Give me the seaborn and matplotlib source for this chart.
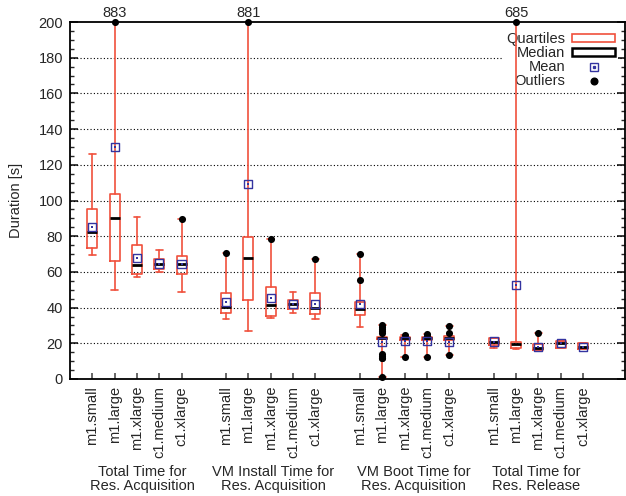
import matplotlib
matplotlib.use("Agg")
import matplotlib.pyplot as plt
import seaborn as sns
import pandas as pd
from matplotlib.lines import Line2D
from matplotlib.patches import Patch
from matplotlib.ticker import MultipleLocator

sns.set_theme(style="ticks")
plt.rcParams["font.family"] = ["Liberation Sans", "DejaVu Sans"]

# ── Data ──────────────────────────────────────────────────────────────────────
instances = ["m1.small", "m1.large", "m1.xlarge", "c1.medium", "c1.xlarge"]
groups = ["Total Time for\nRes. Acquisition",
          "VM Install Time for\nRes. Acquisition",
          "VM Boot Time for\nRes. Acquisition",
          "Total Time for\nRes. Release"]
group_label_x = [3.24, 9.1, 15.4, 20.9]

whislo = [69.5, 49.9, 57.0, 60.0, 48.9,
          33.8, 27.0, 34.0, 37.0, 33.6,
          29.0, 1.3, 12.3, 12.5, 13.6,
          17.5, 17.0, 16.2, 17.5, 16.6]
q1 = [73.4, 66.0, 58.8, 61.6, 58.8,
      37.0, 44.3, 35.3, 39.2, 36.4,
      35.8, 22.4, 21.8, 21.8, 21.8,
      19.0, 17.2, 16.2, 17.5, 16.6]
med = [82.4, 90.2, 64.0, 64.6, 64.6,
       40.4, 67.8, 41.4, 42.2, 40.0,
       39.2, 23.2, 22.8, 22.8, 22.8,
       20.9, 19.4, 17.5, 20.0, 18.1]
q3 = [95.0, 103.6, 75.0, 67.2, 68.9,
      48.0, 79.5, 51.8, 44.3, 48.0,
      43.3, 23.7, 23.4, 23.4, 24.0,
      23.0, 20.5, 19.4, 21.5, 20.0]
whishi = [126.0, 883.0, 91.0, 72.3, 89.6,
          70.5, 881.0, 78.5, 48.6, 67.0,
          70.0, 30.0, 24.6, 25.2, 29.7,
          23.0, 685.0, 25.6, 21.5, 20.0]
means = [85.0, 130.0, 67.7, 64.7, 64.2,
         43.3, 109.0, 45.3, 42.2, 42.0,
         42.0, 20.7, 21.3, 21.5, 20.9,
         21.0, 52.6, 17.8, 20.0, 18.1]
fliers = [[], [883], [], [], [89.6],
          [70.5], [881], [78.5], [], [67],
          [55.5, 70], [30, 29, 28, 27, 26, 14, 13, 12, 11.5, 1.3], [24.6, 12.3], [25.2, 24.0, 12.5], [29.7, 25.8, 13.6],
          [], [685], [25.6], [], []]

YMAX = 200
RED = "#f0503c"
BLUE = "#3434a0"

positions = [g * 6 + i + 1 for g in range(len(groups)) for i in range(len(instances))]
labels = instances * len(groups)

stats = [dict(whislo=a, q1=b, med=c, q3=d, whishi=e, fliers=[], label=l)
         for a, b, c, d, e, l in zip(whislo, q1, med, q3, whishi, labels)]

fl_rows = [(p, v) for p, fs in zip(positions, fliers) for v in fs]
df_fl = pd.DataFrame(fl_rows, columns=["pos", "value"])
df_fl["shown"] = df_fl["value"].clip(upper=YMAX)
df_mean = pd.DataFrame({"pos": positions, "mean": means})

# ── Figure ────────────────────────────────────────────────────────────────────
fig = plt.figure(figsize=(6.26, 4.96), dpi=100)
ax = fig.add_axes([0.1118, 0.2359, 0.8866, 0.7197])

ax.bxp(stats, positions=positions, widths=0.45, showfliers=False,
       boxprops=dict(color=RED, linewidth=1.2),
       whiskerprops=dict(color=RED, linewidth=1.2),
       capprops=dict(color=RED, linewidth=1.2),
       medianprops=dict(color="black", linewidth=2.0),
       capwidths=0.3, manage_ticks=False)

sns.scatterplot(data=df_fl, x="pos", y="shown", ax=ax, color="black", s=26,
                edgecolor="black", linewidth=0, zorder=4, clip_on=False, legend=False)
sns.scatterplot(data=df_mean, x="pos", y="mean", ax=ax, marker="s", s=34,
                facecolor="none", edgecolor=BLUE, linewidth=1.0, zorder=5, legend=False)
sns.scatterplot(data=df_mean, x="pos", y="mean", ax=ax, marker="s", s=2.5,
                color=BLUE, linewidth=0, zorder=5, legend=False)

# values of clipped outliers above the top border
for _, r in df_fl[df_fl["value"] > YMAX].iterrows():
    ax.text(r["pos"], YMAX + 1.2, f"{int(r['value'])}", ha="center", va="bottom", fontsize=10.5)

ax.set_xlim(0, 24.88)
ax.set_ylim(0, YMAX)
ax.set_xlabel("")
ax.set_ylabel("Duration [s]", fontsize=10.5, labelpad=11)
ax.set_xticks(positions)
ax.set_xticklabels(labels, rotation=90, fontsize=10.5)
ax.yaxis.set_major_locator(MultipleLocator(20))
ax.yaxis.set_minor_locator(MultipleLocator(5))
ax.tick_params(axis="y", which="both", direction="in", right=True, labelsize=10.5)
ax.tick_params(axis="y", which="major", length=6, pad=5)
ax.tick_params(axis="y", which="minor", length=3)
ax.tick_params(axis="x", direction="in", length=4, pad=5, color="#555555")
for s in ax.spines.values():
    s.set_linewidth(1.3)
    s.set_color("black")

for v in range(20, YMAX, 20):
    ax.axhline(v, color="black", linestyle=(0, (1, 2)), linewidth=0.8, zorder=1)

for x, g in zip(group_label_x, groups):
    ax.text(x, -0.24, g, transform=ax.get_xaxis_transform(), ha="center", va="top",
            fontsize=10.5, multialignment="center", linespacing=1.05)

handles = [Patch(facecolor="white", edgecolor=RED, linewidth=1.2),
           Patch(facecolor="white", edgecolor="black", linewidth=1.8),
           (Line2D([], [], marker="s", ls="", ms=6, mfc="none", mec=BLUE, mew=1.0),
            Line2D([], [], marker="s", ls="", ms=1.4, mfc=BLUE, mec=BLUE)),
           Line2D([], [], marker="o", ls="", ms=4.8, color="black")]
leg = ax.legend(handles, ["Quartiles", "Median", "Mean", "Outliers"], loc="upper right",
                markerfirst=False, fontsize=10.5, handlelength=2.9, handleheight=0.45,
                labelspacing=0.0, handletextpad=0.5, borderpad=0.2, borderaxespad=0.5,
                frameon=True, fancybox=False, facecolor="white", edgecolor="none",
                framealpha=1.0)
leg.set_zorder(1.9)

fig.savefig("out.png", dpi=100)
